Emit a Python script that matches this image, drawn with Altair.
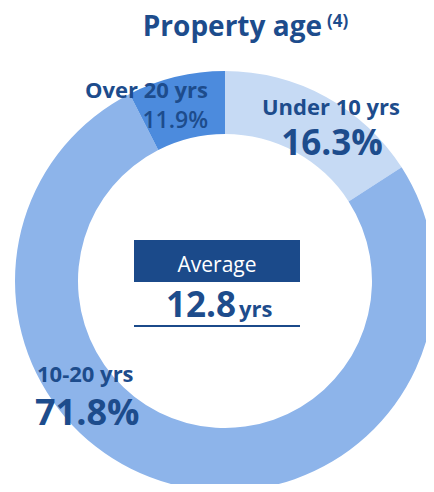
import altair as alt
import pandas as pd

categories = ["Under 10 yrs", "10-20 yrs", "Over 20 yrs"]
# segment sizes as drawn in the picture (share of the ring)
arc_shares = [15.9, 76.6, 7.5]
colors = ["#C6DAF4", "#8DB4EA", "#4C8BDD"]
pct_labels = ["16.3%", "71.8%", "11.9%"]
average_value = "12.8"
average_unit = "yrs"
title_text = "Property age"
title_note = "(4)"

TXT = "#1D4C8C"
FONT = "Open Sans"

df = pd.DataFrame({"category": categories, "value": arc_shares,
                   "order": list(range(len(categories))), "pct": pct_labels})

W, H = 418, 476
CX, CY = 217, 273

donut = alt.Chart(df).mark_arc(outerRadius=210, innerRadius=147, stroke=None).encode(
    theta=alt.Theta("value:Q", stack=True),
    order=alt.Order("order:Q"),
    color=alt.Color("category:N", scale=alt.Scale(domain=categories, range=colors), legend=None),
    x=alt.value(CX), y=alt.value(CY),
)

def txt(text, x, y, size, weight="bold", align="center", color=TXT):
    return alt.Chart(pd.DataFrame({"t": [text]})).mark_text(
        font=FONT, fontSize=size, fontWeight=weight, align=align,
        baseline="alphabetic", color=color
    ).encode(text="t:N", x=alt.value(x), y=alt.value(y))

title1 = txt(title_text, 314, 28, 28, align="right")
title2 = txt(title_note, 319, 19, 17, align="left")

l_under = txt(categories[0], 323, 107, 22)
p_under = txt(pct_labels[0], 324, 147, 35)
l_mid = txt(categories[1], 29, 374, 22, align="left")
p_mid = txt(pct_labels[1], 27, 417, 36, align="left")
l_over = txt(categories[2], 200, 90, 22, align="right")
p_over = txt(pct_labels[2], 200, 120, 23, weight=600, align="right")

box = alt.Chart(pd.DataFrame({"a": [0]})).mark_rect(color="#1B4A8A").encode(
    x=alt.value(126), x2=alt.value(292), y=alt.value(232), y2=alt.value(274))
avg_lbl = txt("Average", 209, 264, 21, weight="normal", color="white")
avg_val = txt(average_value, 228, 309, 35, align="right")
avg_unit = txt(average_unit, 231, 309, 22, align="left")
underline = alt.Chart(pd.DataFrame({"a": [0]})).mark_rule(color="#1B4A8A", strokeWidth=2).encode(
    x=alt.value(126), x2=alt.value(292), y=alt.value(318))

chart = alt.layer(
    donut, title1, title2, l_under, p_under, l_mid, p_mid, l_over, p_over,
    box, avg_lbl, avg_val, avg_unit, underline
).properties(
    width=W, height=H, autosize=alt.AutoSizeParams(type="none"), padding=0
).configure_view(stroke=None)

chart.save("out.html", embed_options={"renderer": "svg", "actions": False})
